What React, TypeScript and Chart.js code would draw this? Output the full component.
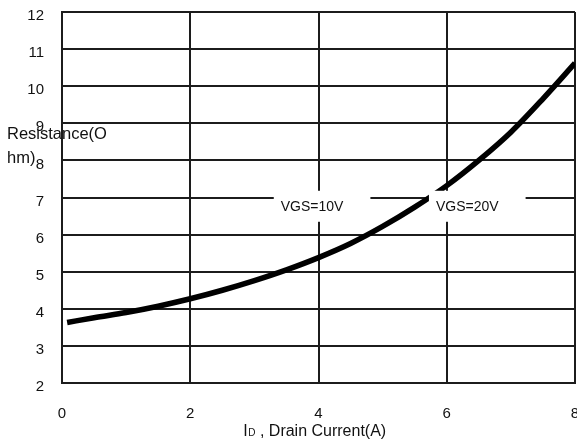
import { useEffect, useRef } from "react";
import { Chart, registerables } from "chart.js";

Chart.register(...registerables);

// Drain-source on-resistance vs. drain current
const drainCurrent = [0.08, 0.5, 1, 1.5, 2, 2.5, 3, 3.5, 4, 4.5, 5, 5.5, 6, 6.5, 7, 7.5, 8];
const resistance = [3.63, 3.76, 3.9, 4.07, 4.27, 4.5, 4.76, 5.05, 5.38, 5.76, 6.22, 6.74, 7.32, 8.0, 8.76, 9.66, 10.62];

const xTicks = [0, 2, 4, 6, 8];
const yTicks = [2, 3, 4, 5, 6, 7, 8, 9, 10, 11, 12];

// Gate-voltage captions placed on the plot (data coordinates)
const curveLabels = ["VGS=10V", "VGS=20V"];
const curveLabelX = [3.9, 6.32];
const curveLabelY = [6.75, 6.75];

const xTitleMain = "I";
const xTitleSub = "D";
const xTitleRest = " , Drain Current(A)";
const yTitleLines = ["Resistance(O", "hm)"];

const FONT = "Arial, 'Liberation Sans', sans-serif";
const INK = "#111";
const GRID = "#1c1c1c";

const annotate = {
  id: "annotate",
  afterDatasetsDraw(chart: any) {
    const { ctx, chartArea, scales } = chart;
    const xs = scales.x;
    const ys = scales.y;
    ctx.save();

    // captions sit on white boxes that break the grid lines behind them
    ctx.font = `14px ${FONT}`;
    ctx.textAlign = "center";
    ctx.textBaseline = "middle";
    curveLabels.forEach((text, i) => {
      const cx = xs.getPixelForValue(curveLabelX[i]);
      const cy = ys.getPixelForValue(curveLabelY[i]);
      const w = ctx.measureText(text).width;
      ctx.fillStyle = "#fff";
      ctx.fillRect(cx - w / 2 - 7, cy - 16, w + 7 + 27, 31);
      ctx.fillStyle = INK;
      ctx.fillText(text, cx, cy);
    });

    // y-axis title, wrapped over two lines
    ctx.textAlign = "left";
    ctx.textBaseline = "alphabetic";
    ctx.font = `16.5px ${FONT}`;
    yTitleLines.forEach((line, i) => {
      ctx.fillText(line, 7, 139 + i * 24);
    });

    // x-axis title with subscript
    const mainFont = `16px ${FONT}`;
    const subFont = `10px ${FONT}`;
    ctx.font = mainFont;
    const wMain = ctx.measureText(xTitleMain).width;
    const wRest = ctx.measureText(xTitleRest).width;
    ctx.font = subFont;
    const wSub = ctx.measureText(xTitleSub).width;
    const total = wMain + wSub + wRest;
    const center = (chartArea.left + chartArea.right) / 2 - 4;
    let px = center - total / 2;
    const base = 436;
    ctx.font = mainFont;
    ctx.fillText(xTitleMain, px, base);
    px += wMain + 0.5;
    ctx.font = subFont;
    ctx.fillText(xTitleSub, px, base);
    px += wSub;
    ctx.font = mainFont;
    ctx.fillText(xTitleRest, px, base);

    ctx.restore();
  },
};

export default function App() {
  const canvasRef = useRef<HTMLCanvasElement | null>(null);

  useEffect(() => {
    document.body.style.margin = "0";
    const canvas = canvasRef.current;
    if (!canvas) return;
    const chart = new Chart(canvas, {
      type: "line",
      data: {
        datasets: [
          {
            data: drainCurrent.map((x, i) => ({ x, y: resistance[i] })),
            borderColor: "#000",
            borderWidth: 5.5,
            pointRadius: 0,
            fill: false,
            cubicInterpolationMode: "monotone",
          },
        ],
      },
      options: {
        animation: false,
        responsive: false,
        devicePixelRatio: 1,
        layout: { padding: { top: 12, right: 2, bottom: 0, left: 0 } },
        plugins: {
          legend: { display: false },
          tooltip: { enabled: false },
          title: { display: false },
        },
        scales: {
          x: {
            type: "linear",
            min: 0,
            max: 8,
            afterBuildTicks: (scale: any) => {
              scale.ticks = xTicks.map((value) => ({ value }));
            },
            afterFit: (scale: any) => {
              scale.height = 63;
              scale.paddingLeft = 0;
              scale.paddingRight = 0;
            },
            grid: { color: GRID, lineWidth: 2, drawTicks: false },
            border: { color: GRID, width: 2 },
            ticks: {
              color: INK,
              font: { family: FONT, size: 15 },
              padding: 22,
              maxRotation: 0,
              autoSkip: false,
            },
          },
          y: {
            type: "linear",
            min: 2,
            max: 12,
            afterBuildTicks: (scale: any) => {
              scale.ticks = yTicks.map((value) => ({ value }));
            },
            afterFit: (scale: any) => {
              scale.width = 62;
              scale.paddingTop = 0;
              scale.paddingBottom = 0;
            },
            grid: { color: GRID, lineWidth: 2, drawTicks: false },
            border: { color: GRID, width: 2 },
            ticks: {
              color: INK,
              font: { family: FONT, size: 15 },
              padding: 18,
              labelOffset: 4,
              autoSkip: false,
            },
          },
        },
      },
      plugins: [annotate],
    } as any);
    return () => chart.destroy();
  }, []);

  return (
    <div style={{ position: "fixed", left: 0, top: 0, width: 577, height: 446, overflow: "hidden", background: "#fff" }}>
      <canvas ref={canvasRef} width={577} height={446} style={{ display: "block" }} />
    </div>
  );
}
